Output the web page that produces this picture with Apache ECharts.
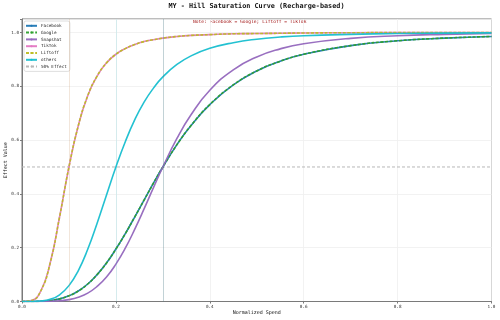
<!DOCTYPE html>
<html>
<head>
<meta charset="utf-8">
<script src="https://cdn.jsdelivr.net/npm/echarts@6/dist/echarts.min.js"></script>
<style>html,body{margin:0;padding:0;background:#fff}#c{width:500px;height:320px}</style>
</head>
<body>
<div id="c"></div>
<script>
// Normalized spend sample points (x)
const xs = [0, 0.02, 0.04, 0.06, 0.08, 0.10, 0.12, 0.14, 0.16, 0.18, 0.20, 0.22, 0.24, 0.26, 0.28, 0.30, 0.33, 0.36, 0.40, 0.45, 0.50, 0.55, 0.60, 0.70, 0.80, 0.90, 1.00];
// Effect values per channel
const facebook = [0, 0.0001, 0.0009, 0.0036, 0.0097, 0.021, 0.039, 0.065, 0.100, 0.143, 0.195, 0.252, 0.314, 0.377, 0.440, 0.500, 0.583, 0.654, 0.732, 0.805, 0.857, 0.893, 0.919, 0.951, 0.969, 0.979, 0.985];
const google   = [0, 0.0001, 0.0009, 0.0036, 0.0097, 0.021, 0.039, 0.065, 0.100, 0.143, 0.195, 0.252, 0.314, 0.377, 0.440, 0.500, 0.583, 0.654, 0.732, 0.805, 0.857, 0.893, 0.919, 0.951, 0.969, 0.979, 0.985];
const snapshat = [0, 0.0000, 0.0001, 0.0007, 0.0026, 0.007, 0.016, 0.031, 0.056, 0.091, 0.139, 0.198, 0.268, 0.344, 0.423, 0.500, 0.606, 0.694, 0.785, 0.861, 0.909, 0.939, 0.958, 0.978, 0.988, 0.993, 0.996];
const tiktok   = [0, 0.0036, 0.039, 0.143, 0.314, 0.500, 0.654, 0.765, 0.838, 0.887, 0.919, 0.940, 0.955, 0.966, 0.973, 0.979, 0.985, 0.989, 0.992, 0.995, 0.996, 0.997, 0.998, 0.999, 0.9993, 0.9995, 0.9997];
const liftoff  = [0, 0.0036, 0.039, 0.143, 0.314, 0.500, 0.654, 0.765, 0.838, 0.887, 0.919, 0.940, 0.955, 0.966, 0.973, 0.979, 0.985, 0.989, 0.992, 0.995, 0.996, 0.997, 0.998, 0.999, 0.9993, 0.9995, 0.9997];
const others   = [0, 0.0001, 0.0016, 0.008, 0.025, 0.059, 0.115, 0.194, 0.291, 0.396, 0.500, 0.594, 0.675, 0.741, 0.793, 0.835, 0.881, 0.913, 0.941, 0.962, 0.975, 0.983, 0.988, 0.993, 0.996, 0.9976, 0.9984];
// Half-saturation points (vertical guide lines) per channel
const halfSat = { Facebook: 0.3, Google: 0.3, Snapshat: 0.3, TikTok: 0.1, Liftoff: 0.1, others: 0.2 };
const xTicks = [0, 0.2, 0.4, 0.6, 0.8, 1.0];
const yTicks = [0, 0.2, 0.4, 0.6, 0.8, 1.0];

const FONT = 'DejaVu Sans Mono';
const channels = [
  { name: 'Facebook', vals: facebook, color: '#1f77b4', dash: 'solid' },
  { name: 'Google', vals: google, color: '#2ca02c', dash: [3, 1.6] },
  { name: 'Snapshat', vals: snapshat, color: '#9467bd', dash: 'solid' },
  { name: 'TikTok', vals: tiktok, color: '#e377c2', dash: 'solid' },
  { name: 'Liftoff', vals: liftoff, color: '#bcbd22', dash: [3, 1.6] },
  { name: 'others', vals: others, color: '#17becf', dash: 'solid' }
];

const series = channels.map(c => ({
  name: c.name,
  type: 'line',
  data: xs.map((x, i) => [x, c.vals[i]]),
  smooth: 0.5,
  showSymbol: false,
  symbol: 'none',
  color: c.color,
  lineStyle: { width: 1.6, type: c.dash, color: c.color, opacity: 0.95 },
  emphasis: { disabled: true },
  animation: false,
  markLine: {
    silent: true, symbol: 'none', animation: false,
    label: { show: false },
    lineStyle: { color: c.color, width: 1, type: 'solid', opacity: 0.13 },
    data: [{ xAxis: halfSat[c.name] }]
  }
}));
series.push({
  name: '50% Effect', type: 'line', data: [[0, 0.5], [1, 0.5]],
  showSymbol: false, symbol: 'none', color: '#b8b8b8',
  lineStyle: { width: 1, type: [3, 2], color: '#b8b8b8' },
  emphasis: { disabled: true }, animation: false, z: 1
});

const onTick = (v, ticks) => ticks.some(t => Math.abs(t - v) < 1e-6);

const chart = echarts.init(document.getElementById('c'), null, { renderer: 'canvas' });
chart.setOption({
  animation: false,
  backgroundColor: '#fff',
  title: {
    text: 'MY - Hill Saturation Curve (Recharge-based)',
    left: 256.5, textAlign: 'center', top: 3, padding: 0,
    textStyle: { fontFamily: FONT, fontSize: 6.8, fontWeight: 'bold', color: '#111' }
  },
  graphic: [{
    type: 'text', left: 193, top: 19.5, silent: true,
    style: { text: 'Note: Facebook = Google; Liftoff = TikTok', fontFamily: FONT, fontSize: 4.6, fill: '#a01010' }
  }],
  legend: {
    orient: 'vertical', left: 24, top: 21,
    padding: [2, 3, 2, 1], itemGap: 1.2, itemWidth: 11, itemHeight: 2.5,
    backgroundColor: 'rgba(255,255,255,0.85)', borderColor: '#d6d6d6', borderWidth: 0.8, borderRadius: 2,
    data: ['Facebook', 'Google', 'Snapshat', 'TikTok', 'Liftoff', 'others', '50% Effect'],
    textStyle: { fontFamily: FONT, fontSize: 4.3, color: '#222', lineHeight: 5.6, padding: [0, 0, 0, -1] },
    selectedMode: false
  },
  grid: { left: 22, right: 8.5, top: 19, bottom: 18.5, show: true, borderColor: '#7a7a7a', borderWidth: 1, backgroundColor: 'transparent', containLabel: false, outerBoundsMode: 'none' },
  xAxis: {
    type: 'value', min: 0, max: 1, interval: 0.2,
    name: 'Normalized Spend', nameLocation: 'middle', nameGap: 8.5, nameMoveOverlap: false,
    nameTextStyle: { fontFamily: FONT, fontSize: 5, color: '#111' },
    axisLine: { show: true, lineStyle: { color: '#7a7a7a', width: 1 } },
    axisTick: { show: true, length: 2, lineStyle: { color: '#7a7a7a' } },
    axisLabel: { fontFamily: FONT, fontSize: 4.3, color: '#333', margin: 3,
      formatter: v => onTick(v, xTicks) ? v.toFixed(1) : '' },
    splitLine: { show: true, lineStyle: { color: '#efefef', width: 0.8 } }
  },
  yAxis: {
    type: 'value', min: 0, max: 1.05, interval: 0.2,
    name: 'Effect Value', nameLocation: 'middle', nameGap: 14, nameMoveOverlap: false,
    nameTextStyle: { fontFamily: FONT, fontSize: 5, color: '#111' },
    axisLine: { show: true, lineStyle: { color: '#7a7a7a', width: 1 } },
    axisTick: { show: true, length: 2, lineStyle: { color: '#7a7a7a' } },
    axisLabel: { fontFamily: FONT, fontSize: 4.3, color: '#333', margin: 3,
      formatter: v => onTick(v, yTicks) ? v.toFixed(1) : '' },
    splitLine: { show: true, lineStyle: { color: '#efefef', width: 0.8 } }
  },
  series: series
});
</script>
</body>
</html>
